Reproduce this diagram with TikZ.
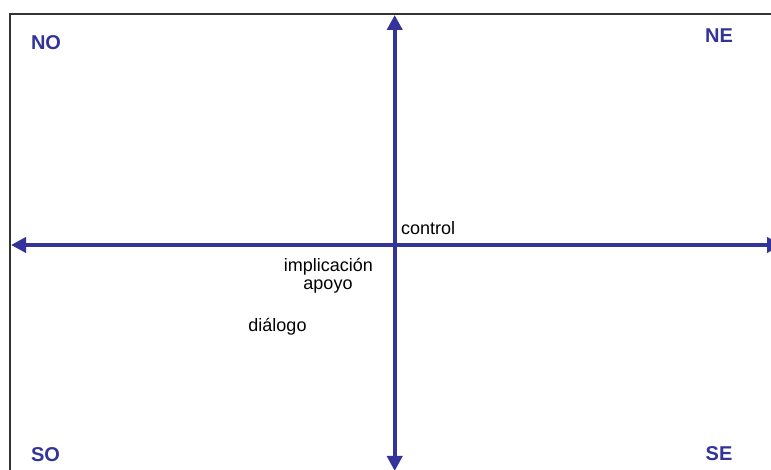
\documentclass[tikz,border=0pt]{standalone}
\usepackage{fontspec}
\setmainfont{Liberation Sans}
\usepackage{tikz}
\usetikzlibrary{arrows.meta, positioning}
\definecolor{axisblue}{RGB}{51,51,153}
\definecolor{framegray}{RGB}{51,51,51}

\begin{document}
\begin{tikzpicture}[x=1pt, y=1pt,
		axis/.style={axisblue, line width=4pt, -{Triangle[length=15pt, width=15pt]}},
		quadlabel/.style={axisblue, font=\fontsize{20}{22}\selectfont\bfseries, inner sep=0pt},
		cue/.style={black, font=\fontsize{18}{20}\selectfont, inner sep=0pt}]
			\useasboundingbox (0,0) rectangle (771,470);
			\pgfmathsetmacro{\midx}{394.7}
			\pgfmathsetmacro{\midy}{225}
			%% frame
			\draw[framegray, line width=2pt] (10,-2) -- (10,455.7) -- (773,455.7);
			%% axes
			\coordinate (centre) at (\midx,\midy);
			\coordinate (west) at (11,\midy);
			\coordinate (east) at (782,\midy);
			\coordinate (north) at (\midx,455);
			\coordinate (south) at (\midx,-1);
			\draw[axis] (centre) -- (west);
			\draw[axis] (centre) -- (east);
			\draw[axis] (centre) -- (north);
			\draw[axis] (centre) -- (south);
			%% quadrants
			\node[quadlabel] (no) at (46,427.5) {NO};
			\node[quadlabel] (ne) at (719,434) {NE};
			\node[quadlabel] (so) at (45.5,15.5) {SO};
			\node[quadlabel] (se) at (719,16) {SE};
			%% styles
			\node[cue, anchor=base west] (control) at (401,235) {control};
			\node[cue, anchor=base] (implicacion) at (328.5,198.5) {implicación};
			\node[cue, anchor=base] (apoyo) at (328,180.5) {apoyo};
			\node[cue, anchor=base] (dialogo) at (277.5,138.5) {diálogo};
			\end{tikzpicture}
\end{document}
